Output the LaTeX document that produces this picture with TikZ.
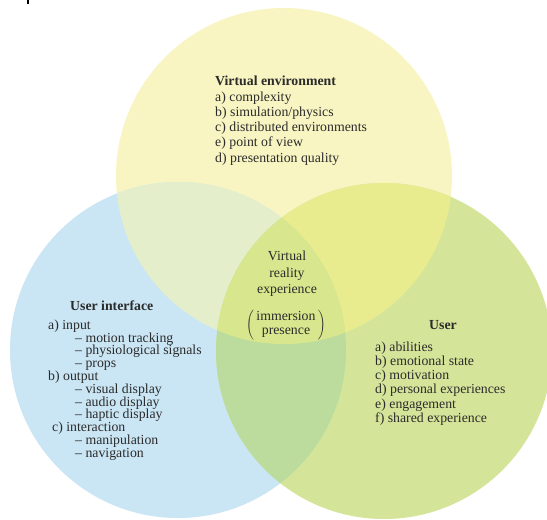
\documentclass[tikz,border=0pt]{standalone}
\usepackage{fontspec}
\setmainfont{Liberation Serif}
\definecolor{yel}{HTML}{F8F5C2}
\definecolor{blu}{HTML}{CAE5F4}
\definecolor{grn}{HTML}{D4E59A}
\definecolor{yelblu}{HTML}{E4EECB}
\definecolor{yelgrn}{HTML}{E9EC8E}
\definecolor{blugrn}{HTML}{BCDC9D}
\definecolor{allthree}{HTML}{D8E78E}
\definecolor{ink}{HTML}{2B2B2B}
\tikzset{
  setfont/.style={font=\fontsize{13.8}{#1}\selectfont},
  label/.style={text=ink, inner sep=0pt},
  listbox/.style={label, align=left, anchor=north west},
}
\begin{document}
\begin{tikzpicture}[x=1pt,y=-1pt]
\useasboundingbox (0,0) rectangle (547,520);
\fill[white] (0,0) rectangle (547,520);
% circle centres
\coordinate (VE) at (284,176);
\coordinate (UI) at (178,350);
\coordinate (US) at (384,351);
\def\rad{168pt}
% single areas
\fill[yel] (VE) circle[radius=\rad];
\fill[blu] (UI) circle[radius=\rad];
\fill[grn] (US) circle[radius=\rad];
% pairwise overlaps
\begin{scope}
  \clip (VE) circle[radius=\rad];
  \fill[yelblu] (UI) circle[radius=\rad];
  \fill[yelgrn] (US) circle[radius=\rad];
\end{scope}
\begin{scope}
  \clip (UI) circle[radius=\rad];
  \fill[blugrn] (US) circle[radius=\rad];
\end{scope}
% common area
\begin{scope}
  \clip (VE) circle[radius=\rad];
  \clip (UI) circle[radius=\rad];
  \fill[allthree] (US) circle[radius=\rad];
\end{scope}
% small mark in the corner
\fill[black] (27,0) rectangle (29,4);

% Virtual environment
\node[listbox, setfont=15.3] (ve) at (215,76) {%
  \textbf{Virtual environment}\\
  a) complexity\\
  b) simulation/physics\\
  c) distributed environments\\
  e) point of view\\
  d) presentation quality};

% User interface
\node[label, setfont=13, anchor=base west] (uit) at (70,310) {\textbf{User interface}};
\node[listbox, setfont=12.8] (ui) at (48,319.5) {%
  a) input\\
  \hspace*{27pt}-- motion tracking\\
  \hspace*{27pt}-- physiological signals\\
  \hspace*{27pt}-- props\\
  b) output\\
  \hspace*{27pt}-- visual display\\
  \hspace*{27pt}-- audio display\\
  \hspace*{27pt}-- haptic display\\
  \hspace*{4pt}c) interaction\\
  \hspace*{27pt}-- manipulation\\
  \hspace*{27pt}-- navigation};

% User
\node[label, setfont=13, anchor=base] (ust) at (443,329) {\textbf{User}};
\node[listbox, setfont=14.2] (us) at (375,341.5) {%
  a) abilities\\
  b) emotional state\\
  c) motivation\\
  d) personal experiences\\
  e) engagement\\
  f) shared experience};

% Centre
\node[label, setfont=16.5, align=center, anchor=north] (vr) at (287,251) {%
  Virtual\\ reality\\ experience};
\node[label, setfont=13.4] (ip) at (286,325) {%
  $\Biggl(\,\begin{tabular}{@{}c@{}}immersion\\presence\end{tabular}\,\Biggr)$};
\end{tikzpicture}
\end{document}
